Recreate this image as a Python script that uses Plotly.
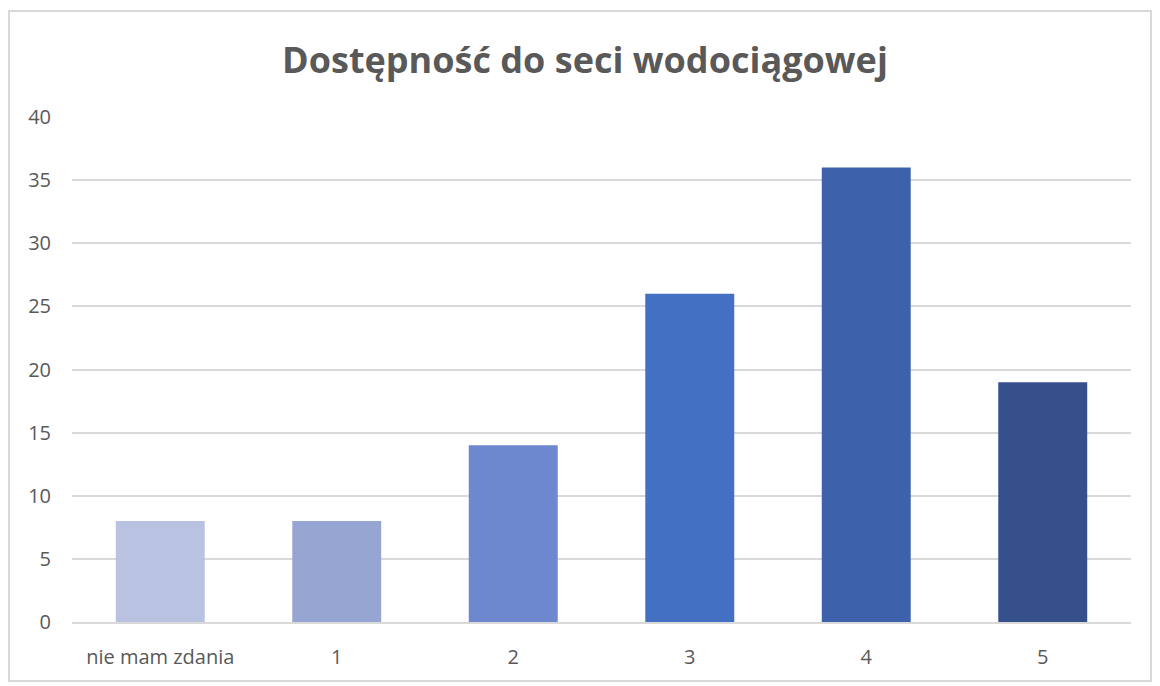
import plotly.graph_objects as go

categories = ["nie mam zdania", "1", "2", "3", "4", "5"]
values = [8, 8, 14, 26, 36, 19]
bar_colors = ["#b9c3e1", "#97a5d3", "#6d88cf", "#4470c4", "#3d62ab", "#36508c"]
title_text = "Dostępność do seci wodociągowej"

# page body has an 8px margin, so the figure sits at (8, 8)
OFF = 8
W, H = 1160 - OFF, 686 - OFF
L, R, T, B = 64, W - (1131 - OFF), 109, H - (622 - OFF)
pw, ph = W - L - R, H - T - B

fig = go.Figure(go.Bar(
    x=categories, y=values,
    marker=dict(color=bar_colors, line=dict(width=0)),
    hoverinfo="x+y",
))

def px_x(p):
    return (p - OFF - L) / pw

def px_y(p):
    return (H - B - (p - OFF)) / ph

fig.update_layout(
    width=W, height=H,
    margin=dict(l=L, r=R, t=T, b=B),
    paper_bgcolor="white", plot_bgcolor="white",
    bargap=0.496,
    showlegend=False,
    font=dict(family="'Open Sans', Lato, sans-serif", color="#595959", size=20),
    title=dict(text="<b>" + title_text + "</b>", x=px_x(585), xanchor="center",
               xref="paper",
               y=1 - (60 - OFF) / H, yanchor="middle",
               font=dict(size=36, color="#595959", family="'Open Sans', Lato, sans-serif")),
    xaxis=dict(showgrid=False, showline=True, linecolor="#d9d9d9", linewidth=2,
               ticks="", tickfont=dict(size=20, color="#595959"),
               ticklabelstandoff=16),
    yaxis=dict(range=[0, 40], dtick=5, showgrid=True, gridcolor="#d9d9d9", gridwidth=2,
               zeroline=False, ticks="", tickfont=dict(size=20, color="#595959"),
               ticklabelstandoff=20),
    shapes=[dict(type="rect", xref="paper", yref="paper",
                 x0=px_x(9), x1=px_x(1151), y0=px_y(681), y1=px_y(11),
                 line=dict(color="#d9d9d9", width=2), fillcolor="rgba(0,0,0,0)",
                 layer="below")],
)

fig.write_html("out.html")
